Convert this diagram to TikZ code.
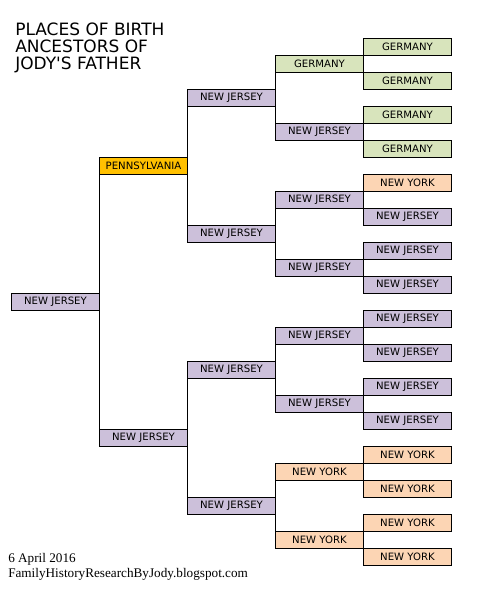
\documentclass[tikz,border=0pt]{standalone}
\usepackage{fontspec}
\setmainfont{DejaVu Sans}
\newfontfamily\serifft{Liberation Serif}
\definecolor{nj}{HTML}{CCC0DA}
\definecolor{gm}{HTML}{D8E4BC}
\definecolor{ny}{HTML}{FCD5B4}
\definecolor{pa}{HTML}{FFC000}
\begin{document}
\begin{tikzpicture}[x=0.75pt,y=-0.75pt,
  box/.style={draw=black, line width=0.75pt, minimum width=66pt, minimum height=12.75pt,
    inner sep=0pt, anchor=west, font=\fontsize{7.6}{9}\selectfont},
  conn/.style={draw=black, line width=0.75pt}]
\useasboundingbox[fill=white] (0,0) rectangle (477,589);
% level 4
\foreach \t/\c [count=\i] in {GERMANY/gm,GERMANY/gm,GERMANY/gm,GERMANY/gm,NEW YORK/ny,NEW JERSEY/nj,NEW JERSEY/nj,NEW JERSEY/nj,NEW JERSEY/nj,NEW JERSEY/nj,NEW JERSEY/nj,NEW JERSEY/nj,NEW YORK/ny,NEW YORK/ny,NEW YORK/ny,NEW YORK/ny}
  \node[box, fill=\c] (d\i) at (363,{13+34*\i}) {\t};
% level 3
\foreach \t/\c [count=\i] in {GERMANY/gm,NEW JERSEY/nj,NEW JERSEY/nj,NEW JERSEY/nj,NEW JERSEY/nj,NEW JERSEY/nj,NEW YORK/ny,NEW YORK/ny}
  \node[box, fill=\c] (c\i) at (275,{-4+68*\i}) {\t};
% level 2
\foreach \i in {1,...,4}
  \node[box, fill=nj] (b\i) at (187,{-38+136*\i}) {NEW JERSEY};
% level 1
\node[box, fill=pa] (a1) at (99,166) {PENNSYLVANIA};
\node[box, fill=nj] (a2) at (99,438) {NEW JERSEY};
% level 0
\node[box, fill=nj] (root) at (11,302) {NEW JERSEY};
% connectors
\foreach \i in {1,...,8}{
  \pgfmathtruncatemacro\ja{2*\i-1}\pgfmathtruncatemacro\jb{2*\i}
  \draw[conn] (d\ja.west) -- (d\jb.west);}
\foreach \i in {1,...,4}{
  \pgfmathtruncatemacro\ja{2*\i-1}\pgfmathtruncatemacro\jb{2*\i}
  \draw[conn] (c\ja.west) -- (c\jb.west);}
\draw[conn] (b1.west) -- (b2.west);
\draw[conn] (b3.west) -- (b4.west);
\draw[conn] (a1.west) -- (a2.west);
% title
\node[anchor=north west, align=left, inner sep=0pt, font=\fontsize{12.75}{12.75}\selectfont] (title) at (15,23)
  {PLACES OF BIRTH\\ANCESTORS OF\\JODY\textquotesingle S FATHER};
% footer
\node[anchor=base west, inner sep=0pt, font=\serifft\fontsize{9.9}{11}\selectfont] (date) at (8,562.5) {6 April 2016};
\node[anchor=base west, inner sep=0pt, font=\serifft\fontsize{9.9}{11}\selectfont] (site) at (8,577.5) {FamilyHistoryResearchByJody.blogspot.com};
\end{tikzpicture}
\end{document}
